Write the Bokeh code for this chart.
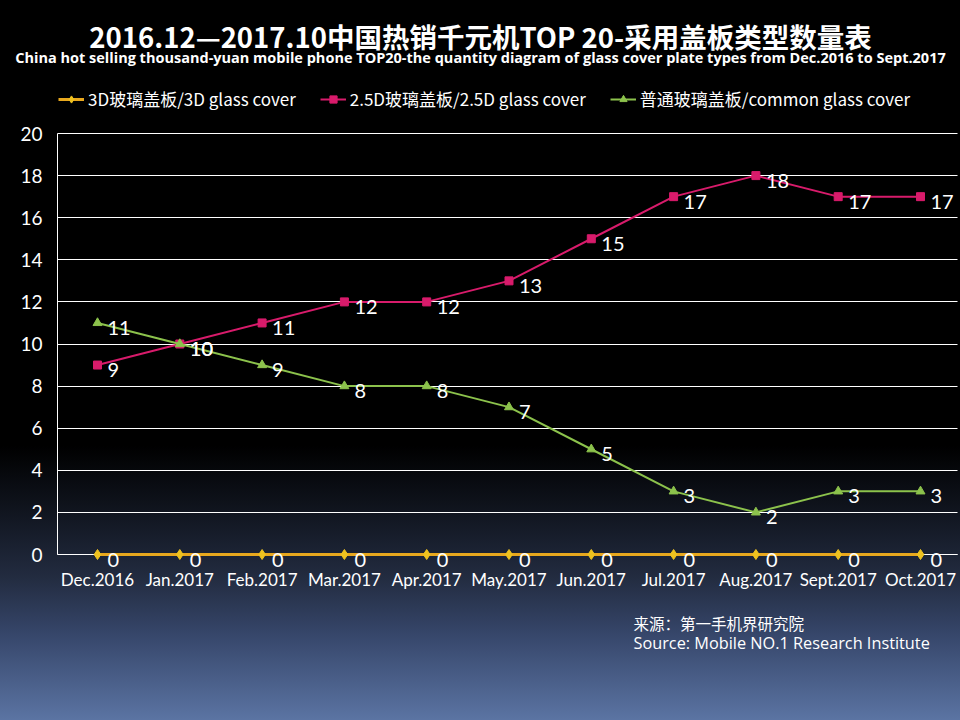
from bokeh.plotting import figure
from bokeh.models import Range1d, FixedTicker, Legend, LegendItem, Label, ColumnDataSource
from bokeh.embed import file_html
from bokeh.resources import INLINE
from bokeh.core.properties import value

# ---- data ----
months = ["Dec.2016", "Jan.2017", "Feb.2017", "Mar.2017", "Apr.2017", "May.2017",
          "Jun.2017", "Jul.2017", "Aug.2017", "Sept.2017", "Oct.2017"]
glass_3d = [0, 0, 0, 0, 0, 0, 0, 0, 0, 0, 0]
glass_25d = [9, 10, 11, 12, 12, 13, 15, 17, 18, 17, 17]
glass_common = [11, 10, 9, 8, 8, 7, 5, 3, 2, 3, 3]
y_ticks = [0, 2, 4, 6, 8, 10, 12, 14, 16, 18, 20]
series_names = ["3D玻璃盖板/3D glass cover", "2.5D玻璃盖板/2.5D glass cover", "普通玻璃盖板/common glass cover"]

title_cn = "2016.12—2017.10中国热销千元机TOP 20-采用盖板类型数量表"
title_en = ("China hot selling thousand-yuan mobile phone TOP20-the quantity diagram of "
            "glass cover plate types from Dec.2016 to Sept.2017")
source_cn = "来源：第一手机界研究院"
source_en = "Source: Mobile NO.1 Research Institute"

# ---- layout (canvas pixels) ----
W, H = 960, 720
PX_FIRST, PX_STEP = 97.0, 82.3      # x pixel of first category, pixels per category
PY_ZERO, PY_UNIT = 554.0, 21.05     # y pixel of value 0, pixels per unit
PLOT_L, PLOT_R = 57.0, 957.0        # plot-area edges in pixels

def dx(px):
    return (px - PX_FIRST) / PX_STEP

def dy(py):
    return (PY_ZERO - py) / PY_UNIT

YELLOW_L = "#e8a81e"
YELLOW_M = "#efc21f"
PINK = "#d81b6b"
GREEN = "#8cc24c"
FONT = "Lato"
CJK = "Noto Sans CJK SC"

p = figure(width=W, height=H, output_backend="svg", toolbar_location=None, title=None,
           x_range=Range1d(dx(0), dx(W)), y_range=Range1d(dy(H), dy(0)),
           min_border_left=0, min_border_right=0, min_border_top=0, min_border_bottom=0,
           background_fill_alpha=0, border_fill_alpha=0, outline_line_color=None)

xs = list(range(len(months)))

# axes
p.xaxis.ticker = FixedTicker(ticks=xs)
p.xaxis.major_label_overrides = {i: m for i, m in enumerate(months)}
p.xaxis.fixed_location = 0
p.xaxis.bounds = (dx(PLOT_L), dx(PLOT_R))
p.yaxis.ticker = FixedTicker(ticks=y_ticks)
p.yaxis.fixed_location = dx(PLOT_L)
p.yaxis.bounds = (0, 20)
for ax in (p.xaxis, p.yaxis):
    ax.axis_line_color = "white"
    ax.axis_line_width = 1
    ax.major_tick_line_color = None
    ax.minor_tick_line_color = None
    ax.major_label_text_color = "white"
    ax.major_label_text_font = FONT
p.xaxis.major_label_text_font_size = "17px"
p.xaxis.major_label_standoff = 8
p.yaxis.major_label_text_font_size = "19px"
p.yaxis.major_label_standoff = 9

p.xgrid.visible = False
p.ygrid.ticker = FixedTicker(ticks=y_ticks)
p.ygrid.bounds = (-0.05, 20.05)
p.ygrid.cross_bounds = (dx(PLOT_L), dx(PLOT_R))
p.ygrid.grid_line_color = "white"
p.ygrid.grid_line_width = 1

# series
src3 = ColumnDataSource(dict(x=xs, y=glass_3d, t=[str(v) for v in glass_3d]))
src25 = ColumnDataSource(dict(x=xs, y=glass_25d, t=[str(v) for v in glass_25d]))
srcc = ColumnDataSource(dict(x=xs, y=glass_common, t=[str(v) for v in glass_common]))

l1 = p.line("x", "y", source=src3, line_color=YELLOW_L, line_width=3, level="annotation")
m1 = p.scatter("x", "y", source=src3, marker="diamond", size=10, fill_color=YELLOW_M,
               line_color=YELLOW_M, level="annotation")
l2 = p.line("x", "y", source=src25, line_color=PINK, line_width=2)
m2 = p.scatter("x", "y", source=src25, marker="square", size=8, fill_color=PINK, line_color=PINK)
l3 = p.line("x", "y", source=srcc, line_color=GREEN, line_width=2)
m3 = p.scatter("x", "y", source=srcc, marker="triangle", size=9, fill_color=GREEN, line_color=GREEN)

for s in (src3, src25, srcc):
    p.text("x", "y", text="t", source=s, x_offset=10, y_offset=5,
           text_align="left", text_baseline="middle", text_color="white",
           text_font=value(FONT), text_font_size="20px", level="annotation")

legend = Legend(items=[LegendItem(label=series_names[0], renderers=[l1, m1]),
                       LegendItem(label=series_names[1], renderers=[l2, m2]),
                       LegendItem(label=series_names[2], renderers=[l3, m3])],
                orientation="horizontal", location=(58, H - 111), padding=0, margin=0,
                spacing=24, label_standoff=4, glyph_width=26, glyph_height=18,
                label_height=22, label_text_font=CJK, label_text_font_size="17px",
                label_text_color="white", background_fill_alpha=0, border_line_color=None)
p.add_layout(legend)

# titles and source
p.add_layout(Label(x=dx(480), y=dy(35), text=title_cn, text_align="center", text_baseline="middle",
                   text_color="white", text_font=CJK, text_font_size="27.5px", text_font_style="bold"))
p.add_layout(Label(x=dx(480), y=dy(57), text=title_en, text_align="center", text_baseline="middle",
                   text_color="white", text_font="Open Sans", text_font_size="14.5px", text_font_style="bold"))
p.add_layout(Label(x=dx(633), y=dy(622), text=source_cn, text_align="left", text_baseline="middle",
                   text_color="white", text_font=CJK, text_font_size="15.5px"))
p.add_layout(Label(x=dx(633), y=dy(642), text=source_en, text_align="left", text_baseline="middle",
                   text_color="white", text_font="Open Sans", text_font_size="16.3px"))

TEMPLATE = """{% block preamble %}<style>
html{background:linear-gradient(to bottom,#000000 0px,#000000 446px,#121722 518px,#222b3f 576px,#36466a 634px,#5b74a3 720px) no-repeat;min-height:720px;}
body{background:transparent;}
</style>{% endblock %}"""

html = file_html(p, INLINE, title="chart", template=TEMPLATE)
open("out.html", "w").write(html)
